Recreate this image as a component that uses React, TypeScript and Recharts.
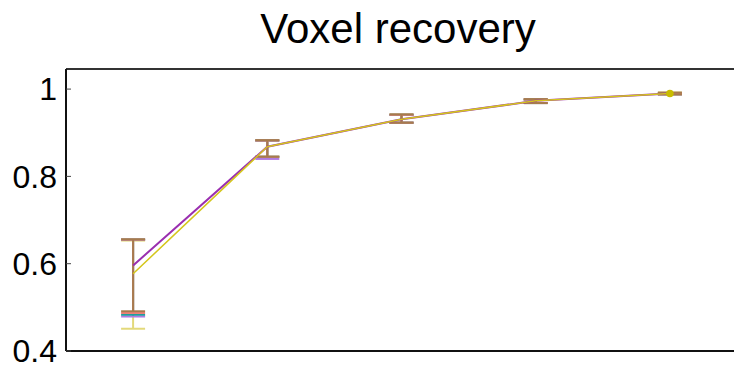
import React from "react";
import { LineChart, Line, XAxis, YAxis, ErrorBar } from "recharts";

// Training runs on the x axis
const runs = [1, 2, 3, 4, 5];

// Mean voxel recovery for the two main configurations
const purpleMean = [0.596, 0.868, 0.931, 0.973, 0.99];
const yellowMean = [0.577, 0.868, 0.931, 0.973, 0.99];

// Spread (min / max) of each configuration
const mixLow = [0.491, 0.845, 0.923, 0.968, 0.988];
const mixHigh = [0.656, 0.883, 0.942, 0.977, 0.992];
const yellowLow = [0.451, 0.845, 0.923, 0.968, 0.988];
const yellowHigh = [0.653, 0.883, 0.942, 0.977, 0.992];
const salmonLow = [0.487, 0.845, 0.923, 0.968, 0.988];
const tealLow = [0.483, 0.845, 0.923, 0.968, 0.988];
const violetLow = [0.479, 0.84, 0.923, 0.968, 0.988];
const sharedHigh = [0.655, 0.882, 0.941, 0.976, 0.991];

const yTicks = [0.4, 0.6, 0.8, 1];

const span = (mean: number, lo: number, hi: number) => [
  Math.max(0, mean - lo),
  Math.max(0, hi - mean),
];

const data = runs.map((run, i) => ({
  run,
  purple: purpleMean[i],
  yellow: yellowMean[i],
  errMix: span(purpleMean[i], mixLow[i], mixHigh[i]),
  errYellow: span(purpleMean[i], yellowLow[i], yellowHigh[i]),
  errSalmon: span(purpleMean[i], salmonLow[i], sharedHigh[i]),
  errTeal: span(purpleMean[i], tealLow[i], sharedHigh[i]),
  errViolet: span(purpleMean[i], violetLow[i], sharedHigh[i]),
}));

const FONT = '"Liberation Sans", Arial, Helvetica, sans-serif';

const lastDot = (props: any) => {
  const { cx, cy, index } = props;
  if (index !== runs.length - 1) return <g key={`d${index}`} />;
  return <circle key={`d${index}`} cx={cx} cy={cy} r={3.8} fill="#c9bc00" stroke="none" />;
};

export default function App() {
  return (
    <div
      style={{
        position: "fixed",
        left: 0,
        top: 0,
        width: 734,
        height: 372,
        overflow: "hidden",
        background: "#fff",
      }}
    >
      <div
        style={{
          position: "absolute",
          left: 0,
          top: 8,
          width: 796,
          textAlign: "center",
          fontFamily: FONT,
          fontSize: 42,
          lineHeight: "42px",
          color: "#000",
          whiteSpace: "nowrap",
        }}
      >
        Voxel recovery
      </div>
      <LineChart
        width={740}
        height={372}
        data={data}
        margin={{ top: 68, right: 0, bottom: 0, left: 0 }}
      >
        <XAxis
          xAxisId="bottom"
          dataKey="run"
          type="number"
          domain={[0.5, 5.5]}
          ticks={runs}
          orientation="bottom"
          height={21}
          tick={false}
          tickSize={-5}
          tickLine={{ stroke: "#6e6e6e", strokeWidth: 1.5 }}
          axisLine={{ stroke: "#111", strokeWidth: 2 }}
        />
        <XAxis
          xAxisId="top"
          dataKey="run"
          type="number"
          domain={[0.5, 5.5]}
          ticks={runs}
          orientation="top"
          height={1}
          tick={false}
          tickSize={-5}
          tickLine={{ stroke: "#6e6e6e", strokeWidth: 1.5 }}
          axisLine={{ stroke: "#333", strokeWidth: 2 }}
        />
        <YAxis
          yAxisId="left"
          type="number"
          domain={[0.4, 1.046]}
          ticks={yTicks}
          width={66}
          tickSize={-5}
          tickMargin={14}
          tickFormatter={(v: number) => String(v)}
          tick={{ fill: "#000", fontSize: 32, fontFamily: FONT }}
          tickLine={{ stroke: "#444", strokeWidth: 1 }}
          axisLine={{ stroke: "#111", strokeWidth: 2 }}
        />
        <YAxis
          yAxisId="right"
          orientation="right"
          type="number"
          domain={[0.4, 1.046]}
          ticks={yTicks}
          width={3}
          tick={false}
          tickSize={-4}
          tickLine={{ stroke: "#444", strokeWidth: 1.5 }}
          axisLine={{ stroke: "#333", strokeWidth: 2 }}
        />
        <Line
          xAxisId="bottom"
          yAxisId="left"
          dataKey="purple"
          type="linear"
          stroke="#9a2fb0"
          strokeWidth={2}
          dot={false}
          isAnimationActive={false}
        >
          <ErrorBar dataKey="errYellow" direction="y" width={12} stroke="#e3d97a" strokeWidth={2} isAnimationActive={false} />
          <ErrorBar dataKey="errViolet" direction="y" width={12} stroke="#b07ae0" strokeWidth={2} isAnimationActive={false} />
          <ErrorBar dataKey="errTeal" direction="y" width={12} stroke="#1f9e9e" strokeWidth={2} isAnimationActive={false} />
          <ErrorBar dataKey="errSalmon" direction="y" width={12} stroke="#f08078" strokeWidth={2} isAnimationActive={false} />
          <ErrorBar dataKey="errMix" direction="y" width={12} stroke="#a67b4e" strokeWidth={2} isAnimationActive={false} />
        </Line>
        <Line
          xAxisId="bottom"
          yAxisId="left"
          dataKey="yellow"
          type="linear"
          stroke="#d4c61c"
          strokeWidth={1.5}
          dot={lastDot}
          isAnimationActive={false}
        />
      </LineChart>
    </div>
  );
}
